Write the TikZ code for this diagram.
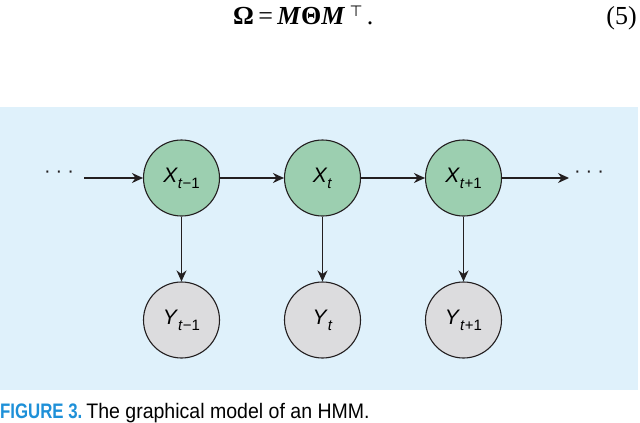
\documentclass[tikz,border=0pt]{standalone}
\usepackage{fontspec}
\setmainfont{Liberation Serif}
\setsansfont{Liberation Sans}
\newfontfamily\capfont[FakeStretch=0.8]{Liberation Sans}
\newfontfamily\captxtfont[FakeStretch=0.93]{Liberation Sans}
\newfontfamily\symfont{DejaVu Sans}
\usetikzlibrary{arrows.meta}
\definecolor{bgblue}{HTML}{DFF1FB}
\definecolor{hidgreen}{HTML}{9CCFB0}
\definecolor{obsgray}{HTML}{DCDCDE}
\definecolor{capblue}{HTML}{1E90D8}
\definecolor{linecol}{HTML}{231F20}
\newcommand{\nodelab}[2]{{\sffamily\fontsize{21}{21}\selectfont\textit{#1}\raisebox{-6pt}{\fontsize{15}{15}\selectfont\upshape #2}}}
\tikzset{
  hidden/.style={circle, draw=linecol, line width=1.1pt, fill=hidgreen, minimum size=76pt, inner sep=0pt},
  observed/.style={circle, draw=linecol, line width=1.1pt, fill=obsgray, minimum size=76pt, inner sep=0pt},
  conn/.style={draw=linecol, line width=1.3pt, -{Stealth[length=11pt,width=10pt]}},
  dotsnode/.style={inner sep=0pt, font=\sffamily\fontsize{20}{20}\selectfont, text=linecol}
}
\begin{document}
\begin{tikzpicture}[x=1pt,y=-1pt]
\useasboundingbox (0,0) rectangle (640,423);
\fill[bgblue] (0,107) rectangle (638,390);
% equation
\node[anchor=base west, inner sep=0pt] (eq) at (233,24)
  {\fontsize{26}{26}\selectfont\textbf{Ω}\,=\,\textbf{\textit{M}}\textbf{Θ}\textbf{\textit{M}}\,\raisebox{8pt}{\symfont\fontsize{15}{15}\selectfont ⊤}\,.};
\node[anchor=base east, inner sep=0pt] (eqnum) at (637,24) {\fontsize{26}{26}\selectfont (5)};
% nodes
\node[hidden] (x1) at (181.5,178) {\nodelab{X}{\textit{t}−1}};
\node[hidden] (x2) at (322.5,178) {\nodelab{X}{\textit{t}}};
\node[hidden] (x3) at (463.5,178) {\nodelab{X}{\textit{t}+1}};
\node[observed] (y1) at (181.5,320) {\nodelab{Y}{\textit{t}−1}};
\node[observed] (y2) at (322.5,320) {\nodelab{Y}{\textit{t}}};
\node[observed] (y3) at (463.5,320) {\nodelab{Y}{\textit{t}+1}};
\node[dotsnode] (dl) at (59,174) {·\hspace{5pt}·\hspace{5pt}·};
\node[dotsnode] (dr) at (589,174) {·\hspace{5pt}·\hspace{5pt}·};
\coordinate (inl) at (84,178);
\coordinate (outr) at (569,178);
% connectors
\draw[conn] (inl) -- (x1);
\draw[conn] (x1) -- (x2);
\draw[conn] (x2) -- (x3);
\draw[conn] (x3) -- (outr);
\draw[conn] (x1) -- (y1);
\draw[conn] (x2) -- (y2);
\draw[conn] (x3) -- (y3);
% caption
\node[anchor=base west, inner sep=0pt] (cap) at (0,418)
  {\fontsize{21}{21}\selectfont{\capfont\bfseries\color{capblue}FIGURE 3.}\hspace{4pt}\captxtfont The graphical model of an HMM.};
\end{tikzpicture}
\end{document}
